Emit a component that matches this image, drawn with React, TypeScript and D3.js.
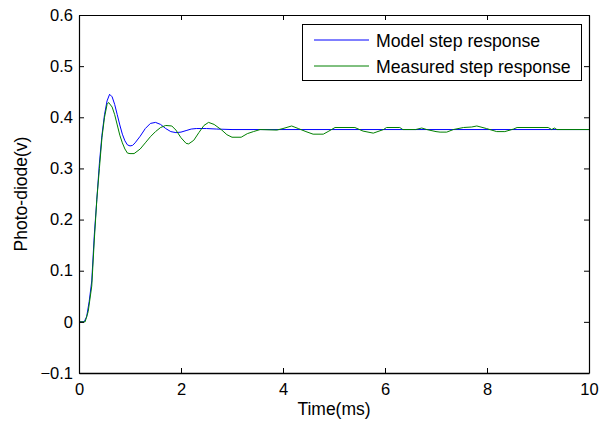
import React, { useEffect, useRef } from 'react';
import * as d3 from 'd3';

// time (ms) and photo-diode voltage
const modelT = [0, 0.1, 0.15, 0.2, 0.25, 0.3, 0.35, 0.4, 0.45, 0.5, 0.55, 0.6, 0.65, 0.7, 0.75, 0.8, 0.85, 0.9, 0.95, 1.0, 1.05, 1.1, 1.2, 1.3, 1.4, 1.5, 1.6, 1.7, 1.8, 1.9, 2.0, 2.1, 2.2, 2.3, 2.5, 2.7, 3.0, 10];
const modelV = [0, 0, 0.01, 0.04, 0.08, 0.17, 0.24, 0.31, 0.365, 0.405, 0.432, 0.445, 0.44, 0.425, 0.405, 0.385, 0.367, 0.354, 0.346, 0.344, 0.345, 0.35, 0.363, 0.378, 0.388, 0.39, 0.386, 0.378, 0.372, 0.37, 0.371, 0.374, 0.377, 0.378, 0.378, 0.377, 0.376, 0.376];

const measT = [0, 0.12, 0.18, 0.25, 0.3, 0.35, 0.4, 0.45, 0.5, 0.55, 0.58, 0.65, 0.7, 0.75, 0.8, 0.85, 0.9, 0.95, 1.0, 1.08, 1.2, 1.3, 1.4, 1.5, 1.6, 1.7, 1.82, 1.9, 2.0, 2.1, 2.15, 2.25, 2.35, 2.45, 2.54, 2.65, 2.8, 2.9, 3.0, 3.18, 3.3, 3.42, 3.55, 3.88, 4.0, 4.17, 4.3, 4.45, 4.59, 4.79, 4.9, 5.02, 5.41, 5.57, 5.77, 5.97, 6.03, 6.29, 6.35, 6.6, 6.72, 6.82, 7.0, 7.08, 7.21, 7.34, 7.54, 7.7, 7.8, 7.99, 8.19, 8.35, 8.52, 8.59, 9.2, 9.27, 9.32, 9.37, 10];
const measV = [0, 0, 0.02, 0.07, 0.16, 0.24, 0.3, 0.36, 0.4, 0.425, 0.429, 0.42, 0.405, 0.385, 0.365, 0.35, 0.338, 0.33, 0.329, 0.329, 0.338, 0.35, 0.362, 0.372, 0.38, 0.384, 0.383, 0.375, 0.36, 0.349, 0.348, 0.355, 0.37, 0.384, 0.39, 0.386, 0.375, 0.366, 0.361, 0.361, 0.368, 0.372, 0.376, 0.375, 0.378, 0.383, 0.378, 0.372, 0.367, 0.367, 0.373, 0.38, 0.38, 0.373, 0.369, 0.376, 0.38, 0.38, 0.376, 0.376, 0.379, 0.376, 0.372, 0.371, 0.371, 0.376, 0.38, 0.381, 0.383, 0.378, 0.372, 0.372, 0.377, 0.38, 0.38, 0.376, 0.379, 0.376, 0.376];

const xTicks = [0, 2, 4, 6, 8, 10];
const yTicks = [-0.1, 0, 0.1, 0.2, 0.3, 0.4, 0.5, 0.6];
const seriesNames = ['Model step response', 'Measured step response'];
const seriesColors = ['#0000ff', '#008000'];

const W = 608, H = 421;
const margin = { left: 79, right: 19, top: 15, bottom: 48 };
const FONT = '"Liberation Sans", Arial, Helvetica, sans-serif';

export default function App() {
    const ref = useRef<SVGSVGElement>(null);

    useEffect(() => {
        const svg = d3.select(ref.current);
        svg.selectAll('*').remove();

        const x = d3.scaleLinear().domain([0, 10]).range([margin.left, W - margin.right]);
        const y = d3.scaleLinear().domain([-0.1, 0.6]).range([H - margin.bottom, margin.top]);

        const line = d3.line<[number, number]>()
            .x(d => x(d[0]))
            .y(d => y(d[1]));

        const model: [number, number][] = modelT.map((t, i) => [t, modelV[i]]);
        const meas: [number, number][] = measT.map((t, i) => [t, measV[i]]);

        svg.append('rect')
            .attr('width', W).attr('height', H).attr('fill', '#fff');

        svg.append('path')
            .datum(model)
            .attr('d', line)
            .attr('fill', 'none')
            .attr('stroke', seriesColors[0])
            .attr('stroke-width', 1);

        svg.append('path')
            .datum(meas)
            .attr('d', line)
            .attr('fill', 'none')
            .attr('stroke', seriesColors[1])
            .attr('stroke-width', 1);

        // box with inward ticks on all sides
        const styleAxis = (g: any, size: number, w: number) => {
            g.selectAll('path.domain').attr('stroke', '#000').attr('stroke-width', w);
            g.selectAll('line').attr('stroke', '#000');
            g.selectAll('text')
                .attr('font-family', FONT)
                .attr('font-size', size)
                .attr('fill', '#000');
        };

        svg.append('g')
            .attr('transform', `translate(0,${H - margin.bottom})`)
            .call(d3.axisBottom(x).tickValues(xTicks).tickSize(-5).tickSizeOuter(0).tickPadding(10).tickFormat(d3.format('d')))
            .call((g: any) => styleAxis(g, 16.5, 1.5));

        svg.append('g')
            .attr('transform', `translate(${margin.left},0)`)
            .call(d3.axisLeft(y).tickValues(yTicks).tickSize(-5).tickSizeOuter(0).tickPadding(6)
                .tickFormat((d: any) => (Math.abs(d) < 1e-9 ? '0' : d3.format('.1f')(d))))
            .call((g: any) => styleAxis(g, 16.5, 1.2));

        svg.append('g')
            .attr('transform', `translate(0,${margin.top})`)
            .call(d3.axisTop(x).tickValues(xTicks).tickSize(-5).tickSizeOuter(0).tickFormat(() => ''))
            .call((g: any) => styleAxis(g, 16, 1));

        svg.append('g')
            .attr('transform', `translate(${W - margin.right},0)`)
            .call(d3.axisRight(y).tickValues(yTicks).tickSize(-5).tickSizeOuter(0).tickFormat(() => ''))
            .call((g: any) => styleAxis(g, 16, 1.2));

        // axis titles
        svg.append('text')
            .attr('x', (margin.left + W - margin.right) / 2)
            .attr('y', 415)
            .attr('text-anchor', 'middle')
            .attr('font-family', FONT)
            .attr('font-size', 17.5)
            .text('Time(ms)');

        svg.append('text')
            .attr('transform', `translate(27,${(margin.top + H - margin.bottom) / 2}) rotate(-90)`)
            .attr('text-anchor', 'middle')
            .attr('font-family', FONT)
            .attr('font-size', 17.5)
            .text('Photo-diode(v)');

        // legend
        const lg = svg.append('g');
        lg.append('rect')
            .attr('x', 302.5).attr('y', 24.5)
            .attr('width', 279).attr('height', 56)
            .attr('fill', '#fff').attr('stroke', '#000').attr('stroke-width', 1);

        seriesNames.forEach((name, i) => {
            const ly = 40 + i * 26;
            lg.append('line')
                .attr('x1', 314).attr('x2', 369)
                .attr('y1', ly).attr('y2', ly)
                .attr('stroke', seriesColors[i]).attr('stroke-width', 1);
            lg.append('text')
                .attr('x', 376).attr('y', ly + 6.5)
                .attr('font-family', FONT)
                .attr('font-size', 17.7)
                .text(name);
        });
    }, []);

    return (
        <svg ref={ref} width={W} height={H}
            style={{ position: 'absolute', left: 0, top: 0, display: 'block' }} />
    );
}
